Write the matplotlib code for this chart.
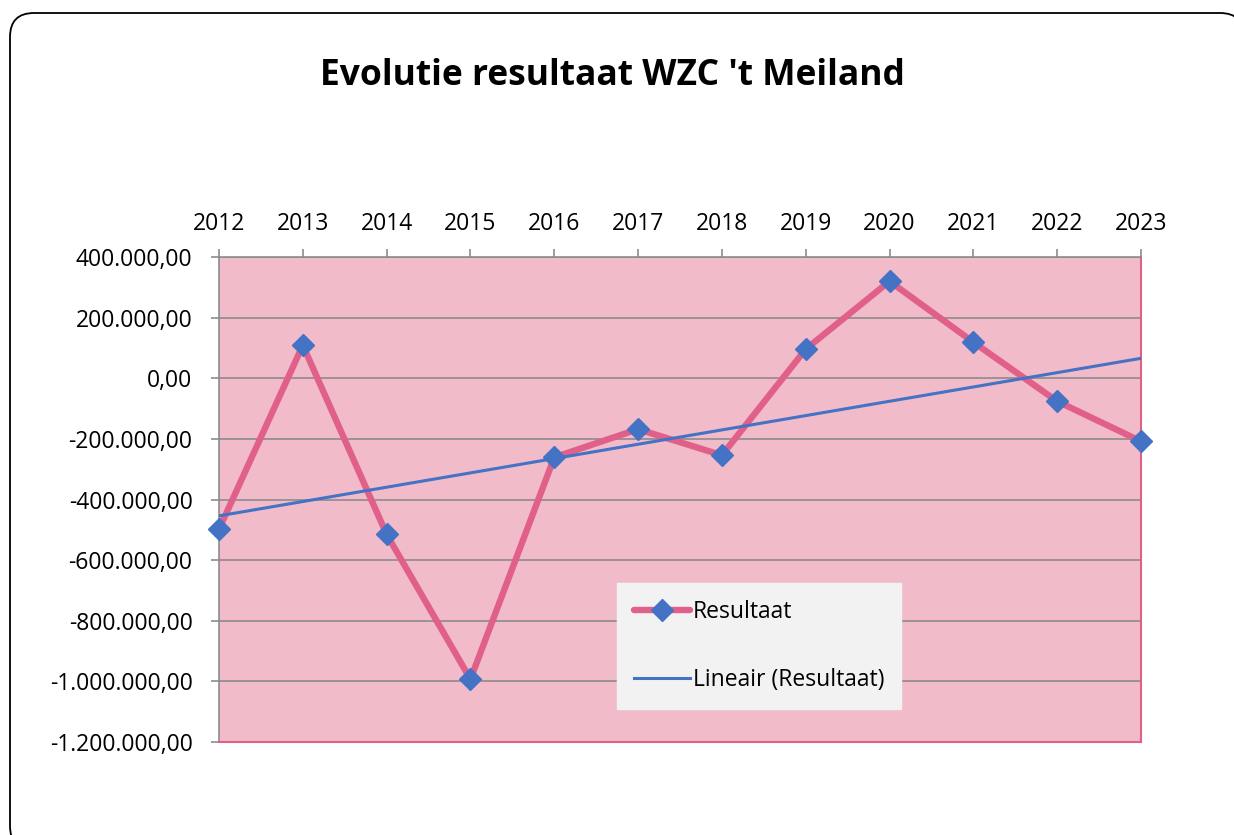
import matplotlib
matplotlib.use("Agg")
import matplotlib.pyplot as plt
import numpy as np
from matplotlib.patches import FancyBboxPatch
from matplotlib.transforms import IdentityTransform
from matplotlib.ticker import FuncFormatter

years = ["2012", "2013", "2014", "2015", "2016", "2017", "2018", "2019", "2020", "2021", "2022", "2023"]
resultaat = [-498000, 109000, -515000, -993000, -261000, -168000, -254000, 96000, 320000, 119000, -76000, -208000]
y_ticks = [400000, 200000, 0, -200000, -400000, -600000, -800000, -1000000, -1200000]

W, H = 1234, 835
fig = plt.figure(figsize=(W / 100, H / 100), dpi=100)
plt.rcParams['font.family'] = ['Open Sans', 'DejaVu Sans']

# rounded outer frame (pixel coordinates)
frame = FancyBboxPatch((10, H - 850), 1244 - 10, 850 - 13,
                       boxstyle="round,pad=0,rounding_size=24", transform=IdentityTransform(),
                       facecolor="white", edgecolor="black", linewidth=1.3, clip_on=False, zorder=-5)
fig.patches.append(frame)

ax = fig.add_axes([219 / W, 1 - 742 / H, (1141 - 219) / W, (742 - 257) / H])
ax.set_facecolor("#F2BBCA")

x = np.arange(len(years))
vals = np.array(resultaat, dtype=float)
coef = np.polyfit(x, vals, 1)
trend = np.polyval(coef, x)

for t in y_ticks:
    ax.axhline(t, color="#8C8C8C", linewidth=1.2, zorder=1)

ax.plot(x, vals, color="#E0608A", linewidth=4.6, marker="D", markersize=11,
        markerfacecolor="#4472C4", markeredgecolor="#4472C4", label="Resultaat", zorder=3,
        solid_capstyle="round", solid_joinstyle="round", clip_on=False)
ax.plot(x, trend, color="#4472C4", linewidth=2.2, label="Lineair (Resultaat)", zorder=4)

ax.set_xlim(0, 11)
ax.set_ylim(-1200000, 400000)
ax.set_xticks(x)
ax.set_xticklabels(years)
ax.xaxis.tick_top()
ax.set_yticks(y_ticks)

def fmt(v, pos):
    s = f"{abs(v):,.2f}".replace(",", "X").replace(".", ",").replace("X", ".")
    return ("-" if v < 0 else "") + s

ax.yaxis.set_major_formatter(FuncFormatter(fmt))
ax.tick_params(axis="both", labelsize=16.5, colors="#8C8C8C", labelcolor="black", length=6, width=1.2)
ax.tick_params(axis="x", pad=9)
ax.tick_params(axis="y", pad=13)

for side in ["left", "top"]:
    ax.spines[side].set_color("#8C8C8C")
    ax.spines[side].set_linewidth(1.2)
for side in ["right", "bottom"]:
    ax.spines[side].set_color("#E0608A")
    ax.spines[side].set_linewidth(1.5)

leg = ax.legend(loc="upper left", bbox_to_anchor=((617 - 219) / (1141 - 219), (742 - 583) / (742 - 257)),
                frameon=True, fontsize=16.5, facecolor="#F2F2F2", edgecolor="#F2F2F2", fancybox=False,
                framealpha=1, borderpad=0.75, labelspacing=1.9, handlelength=2.45, handletextpad=0.1,
                borderaxespad=0)
leg.set_zorder(10)

fig.text(612 / W, 1 - 76 / H, "Evolutie resultaat WZC 't Meiland", ha="center", va="center",
         fontsize=25.5, fontweight="bold")

fig.savefig("out.png", dpi=100)
